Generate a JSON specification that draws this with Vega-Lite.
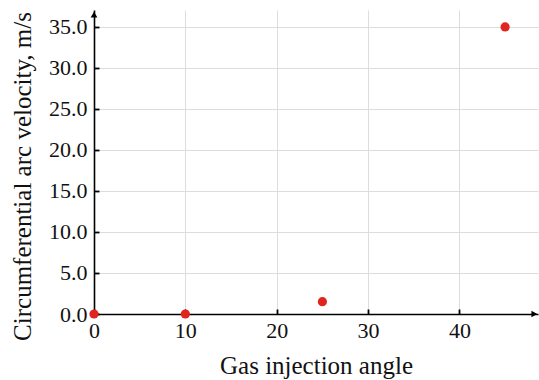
{
  "$schema": "https://vega.github.io/schema/vega-lite/v6.json",
  "width": 444,
  "height": 304,
  "autosize": {"type": "none"},
  "padding": {"left": 94, "top": 10, "right": 1, "bottom": 66},
  "background": "white",
  "config": {
    "view": {"stroke": null},
    "font": "Liberation Serif",
    "axis": {
      "labelFont": "Liberation Serif",
      "titleFont": "Liberation Serif",
      "labelColor": "#111",
      "titleColor": "#111",
      "labelFontSize": 22,
      "titleFontSize": 25,
      "titleFontWeight": "normal",
      "gridColor": "#dddddd",
      "gridWidth": 1,
      "domainColor": "#000",
      "domainWidth": 1.6,
      "tickColor": "#000",
      "tickWidth": 1.8
    }
  },
  "layer": [
    {
      "data": {"values": [
        {"angle": 0, "velocity": 0},
        {"angle": 10, "velocity": 0},
        {"angle": 25, "velocity": 1.5},
        {"angle": 45, "velocity": 35}
      ]},
      "mark": {"type": "point", "filled": true, "size": 85, "opacity": 1, "color": "#e02520", "clip": false},
      "encoding": {
        "x": {"field": "angle", "type": "quantitative",
          "scale": {"domain": [0, 48.6], "nice": false, "zero": false},
          "axis": {"title": "Gas injection angle", "values": [0, 10, 20, 30, 40], "tickSize": -5, "labelPadding": 11, "labelFlush": false,
            "titleY": 59, "titleBaseline": "alphabetic", "titleX": 222, "titleAnchor": "middle", "titleAlign": "center"}},
        "y": {"field": "velocity", "type": "quantitative",
          "scale": {"domain": [0, 37.07], "nice": false, "zero": false},
          "axis": {"title": "Circumferential arc velocity, m/s", "values": [0, 5, 10, 15, 20, 25, 30, 35], "format": ".1f", "tickSize": -5, "labelPadding": 12, "labelFlush": false,
            "titleX": -64, "titleY": 166, "titleBaseline": "alphabetic", "titleAlign": "center", "titleAngle": -90}}
      }
    },
    {
      "data": {"values": [{}]},
      "mark": {"type": "point", "shape": "triangle-up", "filled": true, "size": 45, "color": "#000", "opacity": 1, "clip": false},
      "encoding": {
        "x": {"datum": 0, "type": "quantitative"},
        "y": {"datum": 36.5, "type": "quantitative"}
      }
    },
    {
      "data": {"values": [{}]},
      "mark": {"type": "point", "shape": "triangle-right", "filled": true, "size": 45, "color": "#000", "opacity": 1, "clip": false},
      "encoding": {
        "x": {"datum": 48.2, "type": "quantitative"},
        "y": {"datum": 0, "type": "quantitative"}
      }
    }
  ]
}
